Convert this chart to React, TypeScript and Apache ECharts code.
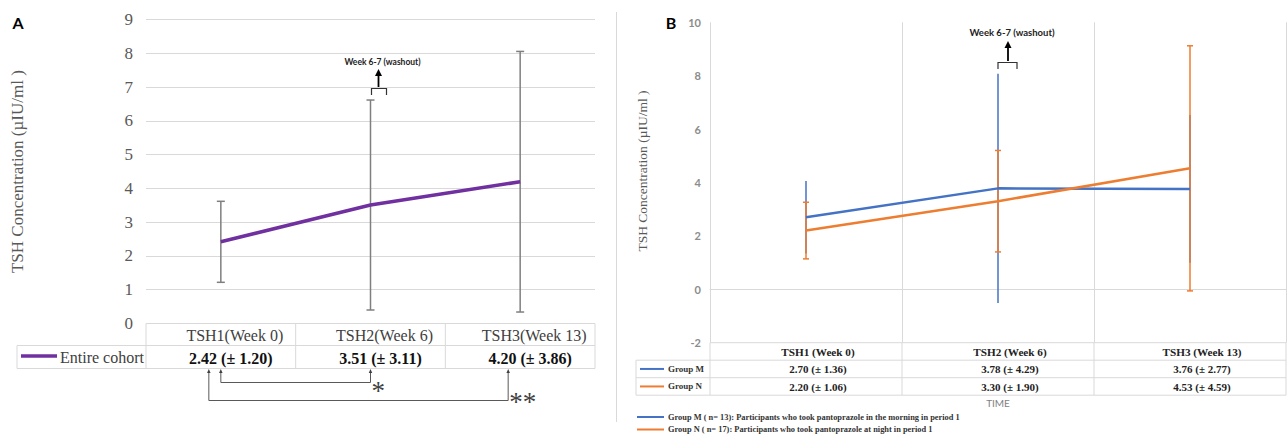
import React, { useEffect, useRef } from "react";
import * as echarts from "echarts";

// ---------- Data ----------
const categoriesA = ["TSH1(Week 0)", "TSH2(Week 6)", "TSH3(Week 13)"];
const meanA = [2.42, 3.51, 4.2];
const sdA = [1.2, 3.11, 3.86];
const seriesNameA = "Entire cohort";

const categoriesB = ["TSH1 (Week 0)", "TSH2 (Week 6)", "TSH3 (Week 13)"];
const meanM = [2.7, 3.78, 3.76];
const sdM = [1.36, 4.29, 2.77];
const meanN = [2.2, 3.3, 4.53];
const sdN = [1.06, 1.9, 4.59];
const seriesNamesB = ["Group M", "Group N"];
const legendTextsB = [
  "Group M ( n= 13): Participants who took pantoprazole in the morning in period 1",
  "Group N ( n= 17): Participants who took pantoprazole at night in period 1",
];

const axisTitle = "TSH Concentration (µIU/ml )";
const washoutText = "Week 6-7 (washout)";

// ---------- Layout / style ----------
const SERIF = "Liberation Serif";
const SANS = "Lato";
const GRID = "#d9d9d9";
const PURPLE = "#7030A0";
const BLUE = "#4472C4";
const ORANGE = "#ED7D31";

const GA = { left: 146, top: 19.7, width: 449, height: 303.8 };
const GB = { left: 710, top: 22.3, width: 576, height: 320.4 };

const fmt = (m: number, s: number) => `${m.toFixed(2)} (± ${s.toFixed(2)})`;

const errBar = (color: string, cap: number, width: number) => (params: any, api: any) => {
  const x = api.value(0);
  const lo = api.coord([x, api.value(1)]);
  const hi = api.coord([x, api.value(2)]);
  const children: any[] = [
    { type: "line", shape: { x1: lo[0], y1: lo[1], x2: hi[0], y2: hi[1] }, style: { stroke: color, lineWidth: width } },
  ];
  if (cap > 0) {
    children.push({ type: "line", shape: { x1: lo[0] - cap, y1: lo[1], x2: lo[0] + cap, y2: lo[1] }, style: { stroke: color, lineWidth: width } });
    children.push({ type: "line", shape: { x1: hi[0] - cap, y1: hi[1], x2: hi[0] + cap, y2: hi[1] }, style: { stroke: color, lineWidth: width } });
  }
  return { type: "group", children };
};

const L = (x1: number, y1: number, x2: number, y2: number, stroke = GRID, lineWidth = 1) => ({
  type: "line",
  silent: true,
  shape: { x1, y1, x2, y2 },
  style: { stroke, lineWidth },
});
const T = (x: number, y: number, text: string, style: any) => ({
  type: "text",
  silent: true,
  x,
  y,
  style: { text, align: "center", verticalAlign: "middle", ...style },
});
const PL = (points: number[][], stroke = "#595959", lineWidth = 1) => ({
  type: "polyline",
  silent: true,
  shape: { points },
  style: { stroke, lineWidth, fill: null },
});
const TRI = (x: number, yTop: number, w: number, h: number, fill = "#000") => ({
  type: "polygon",
  silent: true,
  shape: { points: [[x - w / 2, yTop + h], [x + w / 2, yTop + h], [x, yTop]] },
  style: { fill },
});

function buildGraphics() {
  const g: any[] = [];
  // Panel labels
  g.push(T(18, 22, "A", { fontFamily: SANS, fontWeight: "bold", fontSize: 16, fill: "#000" }));
  g.push(T(671, 22, "B", { fontFamily: SANS, fontWeight: "bold", fontSize: 16, fill: "#000" }));
  // divider
  g.push(L(616.5, 12, 616.5, 422, GRID, 1));

  // ---------- Table A ----------
  const aTop = GA.top + GA.height;
  const aMid = aTop + 22;
  const aBot = aMid + 23;
  const aColW = GA.width / categoriesA.length;
  const aRight = GA.left + GA.width;
  const aLegL = 17;
  g.push(L(GA.left, aTop, aRight, aTop));
  g.push(L(aLegL, aMid, aRight, aMid));
  g.push(L(aLegL, aBot, aRight, aBot));
  g.push(L(aLegL, aMid, aLegL, aBot));
  for (let i = 0; i <= categoriesA.length; i++) {
    const x = GA.left + i * aColW;
    g.push(L(x, aTop, x, aBot));
  }
  categoriesA.forEach((c, i) => {
    const cx = GA.left + (i + 0.5) * aColW;
    g.push(T(cx + 14, (aTop + aMid) / 2 + 0.5, c, { fontFamily: SERIF, fontSize: 16, fill: "#404040" }));
    g.push(T(cx + 10, (aMid + aBot) / 2 + 1, fmt(meanA[i], sdA[i]), { fontFamily: SERIF, fontSize: 16, fontWeight: "bold", fill: "#111" }));
  });
  g.push(L(21, (aMid + aBot) / 2 - 1, 57, (aMid + aBot) / 2 - 1, PURPLE, 3.5));
  g.push(T(60, (aMid + aBot) / 2, seriesNameA, { fontFamily: SERIF, fontSize: 16, fill: "#404040", align: "left" }));

  // significance brackets under table A
  const c0 = GA.left + 0.5 * aColW;
  const c1 = GA.left + 1.5 * aColW;
  const c2 = GA.left + 2.5 * aColW;
  g.push(PL([[c0, 372], [c0, 382.5], [c1, 382.5], [c1, 372]], "#595959", 1));
  g.push(TRI(c0, 369, 3.5, 4, "#404040"));
  g.push(TRI(c1, 369, 3.5, 4, "#404040"));
  g.push(PL([[c0 - 12, 372], [c0 - 12, 400.5], [c2 - 12, 400.5], [c2 - 12, 372]], "#595959", 1));
  g.push(TRI(c0 - 12, 369, 3.5, 4, "#404040"));
  g.push(TRI(c2 - 12, 369, 3.5, 4, "#404040"));
  g.push(T(c1 + 1, 391, "*", { fontFamily: SERIF, fontSize: 27, fill: "#404040", align: "left" }));
  g.push(T(c2 - 11, 402, "**", { fontFamily: SERIF, fontSize: 27, fill: "#404040", align: "left" }));

  // washout annotation A
  g.push(T(c1 + 12, 62, washoutText, { fontFamily: SANS, fontSize: 8.5, fontWeight: "bold", fill: "#222" }));
  g.push(L(c1 + 8, 88, c1 + 8, 75, "#000", 1.8));
  g.push(TRI(c1 + 8, 69, 7, 7, "#000"));
  g.push(PL([[c1 + 1, 95], [c1 + 1, 88.5], [c1 + 16, 88.5], [c1 + 16, 95]], "#333", 1.2));

  // ---------- Table B ----------
  const bColW = GB.width / categoriesB.length;
  const bTop = GB.top + GB.height;
  const bR1 = bTop + 17.5;
  const bR2 = bR1 + 17.5;
  const bBot = bR2 + 17.5;
  const bRight = GB.left + GB.width;
  const bLegL = 636;
  g.push(L(GB.left, bTop, bRight, bTop));
  g.push(L(bLegL, bR1, bRight, bR1));
  g.push(L(bLegL, bR2, bRight, bR2));
  g.push(L(bLegL, bBot, bRight, bBot));
  g.push(L(bLegL, bR1, bLegL, bBot));
  for (let i = 0; i <= categoriesB.length; i++) {
    const x = GB.left + i * bColW;
    g.push(L(x, bTop, x, bBot));
  }
  const rowsB = [
    { mean: meanM, sd: sdM, color: BLUE, name: seriesNamesB[0], y: (bR1 + bR2) / 2 },
    { mean: meanN, sd: sdN, color: ORANGE, name: seriesNamesB[1], y: (bR2 + bBot) / 2 },
  ];
  categoriesB.forEach((c, i) => {
    const cx = GB.left + (i + 0.5) * bColW + 12;
    g.push(T(cx, (bTop + bR1) / 2 + 1, c, { fontFamily: SERIF, fontSize: 11.2, fontWeight: "bold", fill: "#222" }));
    rowsB.forEach((r) => {
      g.push(T(cx, r.y + 0.5, fmt(r.mean[i], r.sd[i]), { fontFamily: SERIF, fontSize: 11, fontWeight: "bold", fill: "#222" }));
    });
  });
  rowsB.forEach((r) => {
    g.push(L(640, r.y, 664, r.y, r.color, 2));
    g.push(T(668, r.y, r.name, { fontFamily: SERIF, fontSize: 9, fontWeight: "bold", fill: "#333", align: "left" }));
  });
  g.push(T(GB.left + GB.width / 2, 403, "TIME", { fontFamily: SANS, fontSize: 10, fill: "#7f7f7f" }));
  // bottom legend
  [BLUE, ORANGE].forEach((col, i) => {
    const y = 417 + i * 12.5;
    g.push(L(637, y, 664, y, col, 2));
    g.push(T(668, y, legendTextsB[i], { fontFamily: SERIF, fontSize: 8.4, fontWeight: "bold", fill: "#333", align: "left" }));
  });
  // B axis title
  g.push({
    type: "text",
    silent: true,
    x: 642,
    y: 171,
    rotation: Math.PI / 2,
    style: { text: axisTitle, align: "center", verticalAlign: "middle", fontFamily: SERIF, fontSize: 13.5, fill: "#595959" },
  });
  // washout annotation B
  const b1 = GB.left + 1.5 * bColW;
  g.push(T(b1 + 14, 32, washoutText, { fontFamily: SANS, fontSize: 9.5, fontWeight: "bold", fill: "#222" }));
  g.push(L(b1 + 10, 61, b1 + 10, 48, "#000", 1.8));
  g.push(TRI(b1 + 10, 41, 7, 7, "#000"));
  g.push(PL([[b1, 69], [b1, 62.5], [b1 + 19, 62.5], [b1 + 19, 69]], "#333", 1.2));
  return g;
}

export default function App() {
  const ref = useRef<HTMLDivElement>(null);
  useEffect(() => {
    if (!ref.current) return;
    const chart = echarts.init(ref.current, undefined, { renderer: "svg" });
    const option: any = {
      animation: false,
      backgroundColor: "#fff",
      grid: [
        { ...GA, outerBoundsMode: "none", containLabel: false },
        { ...GB, outerBoundsMode: "none", containLabel: false },
      ],
      xAxis: [
        {
          type: "category",
          gridIndex: 0,
          data: categoriesA,
          boundaryGap: true,
          axisLine: { show: false },
          axisTick: { show: false },
          axisLabel: { show: false },
          splitLine: { show: false },
        },
        {
          type: "category",
          gridIndex: 1,
          data: categoriesB,
          boundaryGap: true,
          axisLine: { show: true, onZero: true, lineStyle: { color: GRID, width: 1 } },
          axisTick: { show: false },
          axisLabel: { show: false },
          splitLine: { show: true, interval: 0, lineStyle: { color: GRID, width: 1 } },
        },
      ],
      yAxis: [
        {
          type: "value",
          gridIndex: 0,
          min: 0,
          max: 9,
          interval: 1,
          axisLine: { show: false },
          axisTick: { show: false },
          axisLabel: { color: "#595959", fontFamily: SERIF, fontSize: 17, margin: 13 },
          splitLine: { show: true, lineStyle: { color: GRID, width: 1 } },
          name: axisTitle,
          nameLocation: "middle",
          nameGap: 120,
          nameTextStyle: { color: "#595959", fontFamily: SERIF, fontSize: 17 },
        },
        {
          type: "value",
          gridIndex: 1,
          min: -2,
          max: 10,
          interval: 2,
          axisLine: { show: false },
          axisTick: { show: false },
          axisLabel: { color: "#8c8c8c", fontFamily: SANS, fontSize: 11, fontWeight: "bold", margin: 9 },
          splitLine: { show: false },
        },
      ],
      series: [
        {
          type: "custom",
          xAxisIndex: 0,
          yAxisIndex: 0,
          data: meanA.map((m, i) => [i, m - sdA[i], m + sdA[i]]),
          renderItem: errBar("#7f7f7f", 4, 1.5),
          clip: false,
          silent: true,
          z: 2,
        },
        {
          type: "line",
          name: seriesNameA,
          xAxisIndex: 0,
          yAxisIndex: 0,
          data: meanA,
          symbol: "none",
          lineStyle: { color: PURPLE, width: 3.5 },
          silent: true,
          z: 3,
        },
        {
          type: "custom",
          xAxisIndex: 1,
          yAxisIndex: 1,
          data: meanM.map((m, i) => [i, m - sdM[i], m + sdM[i]]),
          renderItem: errBar(BLUE, 0, 1.5),
          clip: false,
          silent: true,
          z: 2,
        },
        {
          type: "custom",
          xAxisIndex: 1,
          yAxisIndex: 1,
          data: meanN.map((m, i) => [i, m - sdN[i], m + sdN[i]]),
          renderItem: errBar(ORANGE, 3, 1.5),
          clip: false,
          silent: true,
          z: 2,
        },
        {
          type: "line",
          name: seriesNamesB[0],
          xAxisIndex: 1,
          yAxisIndex: 1,
          data: meanM,
          symbol: "none",
          lineStyle: { color: BLUE, width: 2.5 },
          silent: true,
          z: 3,
        },
        {
          type: "line",
          name: seriesNamesB[1],
          xAxisIndex: 1,
          yAxisIndex: 1,
          data: meanN,
          symbol: "none",
          lineStyle: { color: ORANGE, width: 2.5 },
          silent: true,
          z: 3,
        },
      ],
      graphic: buildGraphics(),
    };
    chart.setOption(option);
    return () => chart.dispose();
  }, []);
  return (
    <div
      ref={ref}
      style={{ position: "fixed", left: 0, top: 0, width: 1288, height: 436, background: "#fff" }}
    />
  );
}
